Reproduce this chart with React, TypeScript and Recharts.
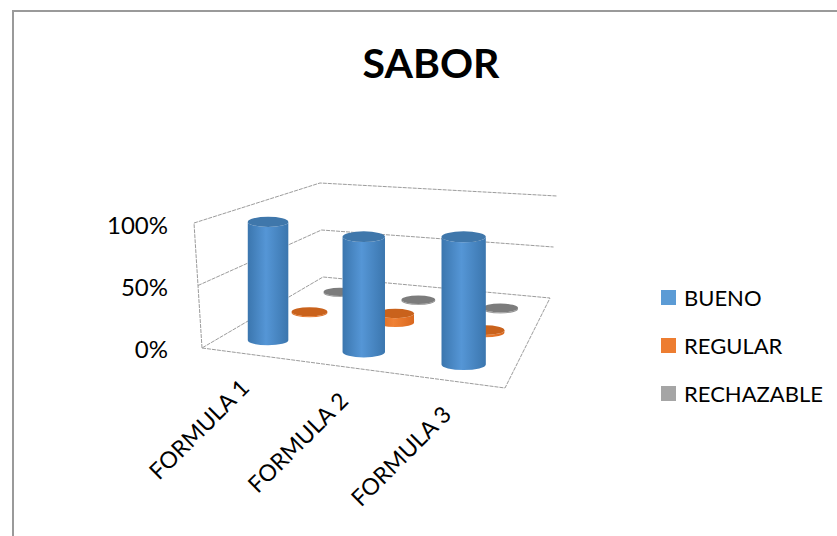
import React from 'react'
import { BarChart, Bar, XAxis, YAxis, Legend } from 'recharts'

const categories = ['FORMULA 1', 'FORMULA 2', 'FORMULA 3']
const bueno = [98, 93, 100]
const regular = [1, 8, 2]
const rechazable = [1, 1, 1]
const yTicks = [0, 50, 100]
const legendOrder = ['BUENO', 'REGULAR', 'RECHAZABLE']

const data = categories.map((name, i) => ({
  name,
  bueno: bueno[i],
  regular: regular[i],
  rechazable: rechazable[i],
}))

const FONT = 'Lato, "Open Sans", sans-serif'
const PLOT_LEFT = 200
const PLOT_W = 310
const PLOT_H = 124

// corners of the 3D box, floor and 100% level
const floor = { a: [202, 348], b: [505, 388], c: [550, 298], d: [323, 277] }
const roof = { a: [194, 223], b: [515, 252], c: [557, 196], d: [320, 183] }

const mix = (p: number[], q: number[], t: number) => [p[0] + (q[0] - p[0]) * t, p[1] + (q[1] - p[1]) * t]

function corner(box: typeof floor, u: number, v: number) {
  // small warp so categories spread out towards the viewer, like the perspective does
  const w = u - 0.065 * u * (1 - u)
  return mix(mix(box.a, box.b, w), mix(box.d, box.c, w), v)
}

// u: along categories, v: depth, f: share of the value axis
function project(u: number, v: number, f: number) {
  return mix(corner(floor, u, v), corner(roof, u, v), f)
}

function Walls() {
  const line = (pts: number[][]) => pts.map((p) => p.join(',')).join(' ')
  return (
    <g fill="none" stroke="#9c9c9c" strokeWidth={1} strokeDasharray="4 1">
      <polygon points={line([project(0, 0, 0), project(1, 0, 0), project(1, 1, 0), project(0, 1, 0)])} />
      <polyline points={line([project(0, 0, 0), project(0, 0, 1)])} />
      {yTicks.filter((t) => t > 0).map((t) => (
        <polyline key={t} points={line([project(0, 0, t / 100), project(0, 1, t / 100), project(1, 1, t / 100)])} />
      ))}
    </g>
  )
}

function Cylinder({ index, height, depth, id, topColor }: any) {
  const u = (index + 0.5) / categories.length
  const f = (height || 0) / PLOT_H
  const [px, by] = project(u, depth, 0)
  const ty = project(u, depth, f)[1]
  // front row sits a little wider apart than the box edges give
  const bx = px + (1 - depth) * (6 * u - 4)
  const rx = (21 + 3 * u) * (1 - 0.3 * depth)
  const ry = rx * 0.25
  const d = `M${bx - rx} ${ty} L${bx - rx} ${by} A${rx} ${ry} 0 0 0 ${bx + rx} ${by} L${bx + rx} ${ty} A${rx} ${ry} 0 0 1 ${bx - rx} ${ty} Z`
  return (
    <g>
      <path d={d} fill={`url(#${id})`} />
      <ellipse cx={bx} cy={ty} rx={rx} ry={ry} fill={topColor} />
    </g>
  )
}

function Grad({ id, edge, mid }: { id: string; edge: string; mid: string }) {
  return (
    <linearGradient id={id} x1="0" y1="0" x2="1" y2="0">
      <stop offset="0%" stopColor={edge} />
      <stop offset="45%" stopColor={mid} />
      <stop offset="100%" stopColor={edge} />
    </linearGradient>
  )
}

function FormulaTick({ x, payload }: any) {
  const [px, py] = project((x - PLOT_LEFT) / PLOT_W, 0, 0)
  return (
    <text
      transform={`translate(${px + 1},${py + 35}) rotate(-45)`}
      textAnchor="end"
      fontFamily={FONT}
      fontSize={23}
      fill="#000"
    >
      {payload.value}
    </text>
  )
}

function LegendBox({ payload }: any) {
  const items = [...(payload || [])].sort((p, q) => legendOrder.indexOf(p.value) - legendOrder.indexOf(q.value))
  return (
    <div>
      {items.map((it: any) => (
        <div key={it.value} style={{ display: 'flex', alignItems: 'center', height: 48, fontFamily: FONT, fontSize: 22, color: '#000' }}>
          <span style={{ width: 15, height: 15, background: it.color, marginRight: 8 }} />
          {it.value}
        </div>
      ))}
    </div>
  )
}

export default function App() {
  return (
    <div style={{ position: 'absolute', left: 0, top: 0, width: 837, height: 536, overflow: 'hidden', background: '#fff' }}>
      <div style={{ position: 'absolute', left: 12, top: 10, width: 900, height: 600, borderLeft: '2px solid #9a9a9a', borderTop: '2px solid #9a9a9a' }} />
      <div style={{ position: 'absolute', left: 0, top: 0 }}>
        <BarChart width={837} height={536} data={data} margin={{ top: 225, right: 327, bottom: 157, left: 170 }}>
          <defs>
            <Grad id="blueGrad" edge="#3b76ae" mid="#5596d6" />
            <Grad id="orangeGrad" edge="#d9681f" mid="#f08236" />
            <Grad id="grayGrad" edge="#8a8a8a" mid="#a8a8a8" />
          </defs>
          <text x={431} y={78} textAnchor="middle" fontFamily={FONT} fontWeight={700} fontSize={41} fill="#000">SABOR</text>
          <Walls />
          <XAxis dataKey="name" height={30} axisLine={false} tickLine={false} interval={0} tick={<FormulaTick />} />
          <YAxis
            width={30}
            domain={[0, 100]}
            ticks={yTicks}
            interval={0}
            axisLine={false}
            tickLine={false}
            tickSize={0}
            tickMargin={32}
            tickFormatter={(v: number) => `${v}%`}
            tick={{ fontFamily: FONT, fontSize: 24, fill: '#000' }}
          />
          <Legend
            layout="vertical"
            align="center"
            verticalAlign="middle"
            content={<LegendBox />}
            wrapperStyle={{ left: 661, top: 273, width: 176 }}
          />
          <Bar dataKey="rechazable" name="RECHAZABLE" fill="#a5a5a5" isAnimationActive={false}
            shape={(p: any) => <Cylinder {...p} depth={0.83} id="grayGrad" topColor="#7c7c7c" />} />
          <Bar dataKey="regular" name="REGULAR" fill="#ed7d31" isAnimationActive={false}
            shape={(p: any) => <Cylinder {...p} depth={0.56} id="orangeGrad" topColor="#c9621c" />} />
          <Bar dataKey="bueno" name="BUENO" fill="#5b9bd5" isAnimationActive={false}
            shape={(p: any) => <Cylinder {...p} depth={0.19} id="blueGrad" topColor="#3f77ab" />} />
        </BarChart>
      </div>
    </div>
  )
}
